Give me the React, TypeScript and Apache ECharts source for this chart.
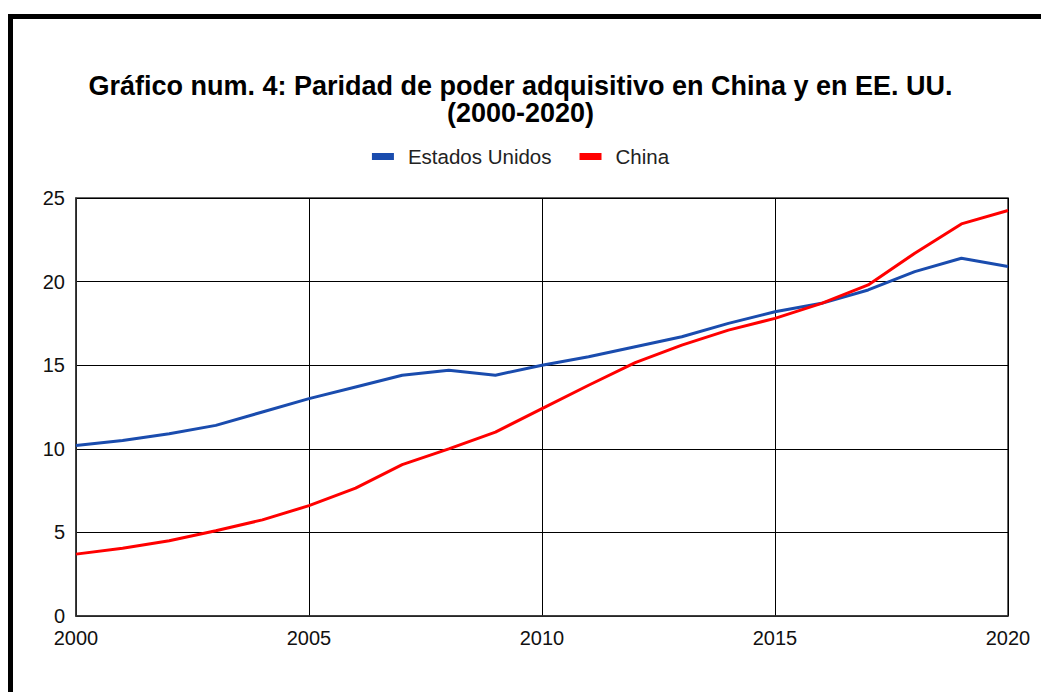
import React, { useEffect, useRef } from "react";
import * as echarts from "echarts";

const years = [2000, 2001, 2002, 2003, 2004, 2005, 2006, 2007, 2008, 2009, 2010, 2011, 2012, 2013, 2014, 2015, 2016, 2017, 2018, 2019, 2020];
const usa = [10.2, 10.5, 10.9, 11.4, 12.2, 13.0, 13.7, 14.4, 14.7, 14.4, 15.0, 15.5, 16.1, 16.7, 17.5, 18.2, 18.7, 19.5, 20.6, 21.4, 20.9];
const china = [3.7, 4.05, 4.5, 5.1, 5.75, 6.6, 7.65, 9.05, 10.0, 11.0, 12.4, 13.8, 15.15, 16.2, 17.1, 17.8, 18.7, 19.8, 21.7, 23.45, 24.25];
const seriesNames = ["Estados Unidos", "China"];
const titleText = "Gráfico num. 4: Paridad de poder adquisitivo en China y en EE. UU.\n(2000-2020)";

const FONT = "'Liberation Sans', Arial, Helvetica, sans-serif";

export default function App() {
  const ref = useRef<HTMLDivElement>(null);
  useEffect(() => {
    if (!ref.current) return;
    const chart = echarts.init(ref.current, undefined, { renderer: "svg" });
    chart.setOption({
      animation: false,
      backgroundColor: "#fff",
      textStyle: { fontFamily: FONT },
      title: {
        text: titleText,
        left: "center",
        top: 67,
        textStyle: { fontFamily: FONT, fontSize: 27, fontWeight: "bold", color: "#000", lineHeight: 27 },
      },
      legend: {
        top: 141,
        left: "center",
        icon: "rect",
        itemWidth: 22,
        itemHeight: 7,
        itemGap: 28,
        textStyle: { fontFamily: FONT, fontSize: 20.5, color: "#222", padding: [0, 0, 0, 9] },
        data: seriesNames,
      },
      grid: { left: 76, right: 33, top: 198, bottom: 76, show: true, borderColor: "#333", borderWidth: 1.5, containLabel: false },
      xAxis: {
        type: "value",
        min: 2000,
        max: 2020,
        interval: 5,
        axisLine: { show: true, lineStyle: { color: "#333", width: 1.5 } },
        axisTick: { show: false },
        axisLabel: { fontFamily: FONT, fontSize: 20, color: "#111", margin: 12, formatter: (v: number) => String(v) },
        splitLine: { show: true, lineStyle: { color: "#000", width: 1 } },
      },
      yAxis: {
        type: "value",
        min: 0,
        max: 25,
        interval: 5,
        axisLine: { show: true, lineStyle: { color: "#333", width: 1.5 } },
        axisTick: { show: false },
        axisLabel: { fontFamily: FONT, fontSize: 20, color: "#111", margin: 11 },
        splitLine: { show: true, lineStyle: { color: "#000", width: 1 } },
      },
      graphic: [
        {
          type: "rect",
          shape: { x: 10.5, y: 16.5, width: 1200, height: 900 },
          style: { stroke: "#000", lineWidth: 5, fill: "none" },
          z: 100,
        },
      ],
      series: [
        {
          name: seriesNames[0],
          type: "line",
          data: years.map((y, i) => [y, usa[i]]),
          showSymbol: false,
          lineStyle: { color: "#1a4cae", width: 3 },
          itemStyle: { color: "#1a4cae" },
        },
        {
          name: seriesNames[1],
          type: "line",
          data: years.map((y, i) => [y, china[i]]),
          showSymbol: false,
          lineStyle: { color: "#ff0000", width: 3 },
          itemStyle: { color: "#ff0000" },
        },
      ],
    });
    return () => chart.dispose();
  }, []);
  return <div ref={ref} style={{ position: "fixed", left: 0, top: 0, width: 1041, height: 692 }} />;
}
